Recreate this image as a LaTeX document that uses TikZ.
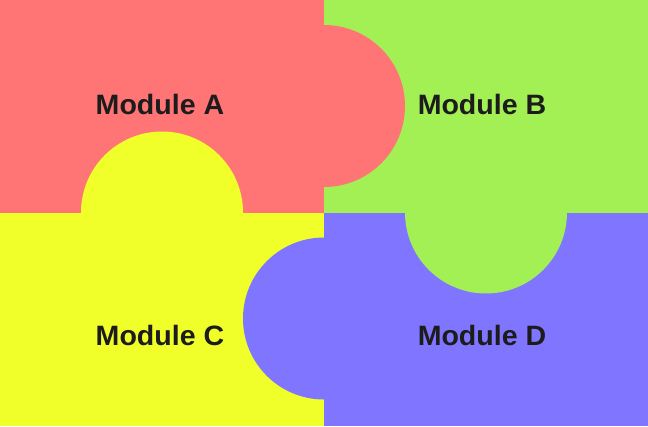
\documentclass[tikz,border=0pt]{standalone}
\usepackage{fontspec}
\setmainfont{Liberation Sans}
\definecolor{cA}{HTML}{FF7575}
\definecolor{cB}{HTML}{A3F055}
\definecolor{cC}{HTML}{F0FF2A}
\definecolor{cD}{HTML}{8075FF}
\definecolor{txt}{HTML}{1C1C1C}
\begin{document}
\begin{tikzpicture}[x=1pt,y=-1pt,
  lbl/.style={text=txt,font=\fontsize{28}{30}\selectfont\bfseries,inner sep=0pt,xscale=1.02},
  tab/.style={radius=81}]
\useasboundingbox (0,0) rectangle (648,426);
% quadrants
\fill[cA] (0,0) rectangle (324,212.5);
\fill[cB] (324,0) rectangle (648,212.5);
\fill[cC] (0,212.5) rectangle (324,426);
\fill[cD] (324,212.5) rectangle (648,426);
% tabs
\fill[cA] (324,106) circle[tab];
\fill[cC] (162,212.5) circle[tab];
\fill[cB] (486,212.5) circle[tab];
\fill[cD] (324,318.5) circle[tab];
% labels
\node[lbl] (a) at (160,104.5) {Module A};
\node[lbl] (b) at (482,104.5) {Module B};
\node[lbl] (c) at (160,335) {Module C};
\node[lbl] (d) at (482,335) {Module D};
\end{tikzpicture}
\end{document}
